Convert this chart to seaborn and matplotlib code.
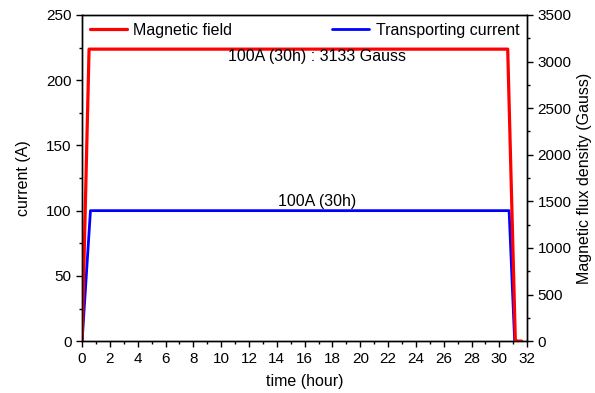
import matplotlib
matplotlib.use("Agg")
import matplotlib.pyplot as plt
import matplotlib.ticker as mticker
import seaborn as sns
import pandas as pd

sns.set_theme(style="ticks")
plt.rcParams['font.family'] = ['Liberation Sans', 'DejaVu Sans']
plt.rcParams['text.color'] = 'black'
plt.rcParams['axes.labelcolor'] = 'black'

# Data
time_current = [0.0, 0.6, 30.7, 31.1, 31.3]
current_A = [0, 100, 100, 0, 0]
time_field = [0.0, 0.5, 30.6, 31.15, 31.6]
field_G = [0, 3133, 3133, 0, 0]

fig = plt.figure(figsize=(5.95, 3.93), dpi=100)
ax = fig.add_axes([0.138, 0.132, 0.748, 0.830])
ax2 = ax.twinx()

df_c = pd.DataFrame({"t": time_current, "v": current_A})
df_f = pd.DataFrame({"t": time_field, "v": field_G})

sns.lineplot(data=df_c, x="t", y="v", ax=ax, color="#0000ff", lw=2, label="Transporting current", legend=False)
sns.lineplot(data=df_f, x="t", y="v", ax=ax2, color="#ff0000", lw=2.3, label="Magnetic field", legend=False)

ax.set_xlim(0, 32)
ax.set_ylim(0, 250)
ax2.set_ylim(0, 3500)

ax.xaxis.set_major_locator(mticker.MultipleLocator(2))
ax.xaxis.set_minor_locator(mticker.MultipleLocator(1))
ax.yaxis.set_major_locator(mticker.MultipleLocator(50))
ax.yaxis.set_minor_locator(mticker.MultipleLocator(25))
ax2.yaxis.set_major_locator(mticker.MultipleLocator(500))
ax2.yaxis.set_minor_locator(mticker.MultipleLocator(250))

for a in (ax, ax2):
    a.tick_params(which='major', direction='out', length=4, width=1, colors='black', labelsize=11)
    a.tick_params(which='minor', direction='out', length=2.5, width=1, colors='black')
    for s in a.spines.values():
        s.set_color('black')
        s.set_linewidth(1)

ax.set_xlabel("time (hour)", fontsize=11.5, labelpad=6)
ax.set_ylabel("current (A)", fontsize=11.5, labelpad=11)
ax2.set_ylabel("Magnetic flux density (Gauss)", fontsize=11.5, labelpad=4)

h1, l1 = ax2.get_legend_handles_labels()
h2, l2 = ax.get_legend_handles_labels()
leg1 = ax2.legend(h1, l1, loc="upper left", frameon=False, fontsize=11.5, handlelength=2.3,
                  borderaxespad=0.1, handletextpad=0.4)
ax2.add_artist(leg1)
leg2 = ax2.legend(h2, l2, loc="upper right", frameon=False, fontsize=11.5, handlelength=2.3,
                  borderaxespad=0.1, handletextpad=0.4)

ax2.text(16.9, 3133, "100A (30h) : 3133 Gauss", ha="center", va="top", fontsize=11.5)
ax.text(16.9, 101, "100A (30h)", ha="center", va="bottom", fontsize=11.5)

fig.savefig("out.png", dpi=100)
